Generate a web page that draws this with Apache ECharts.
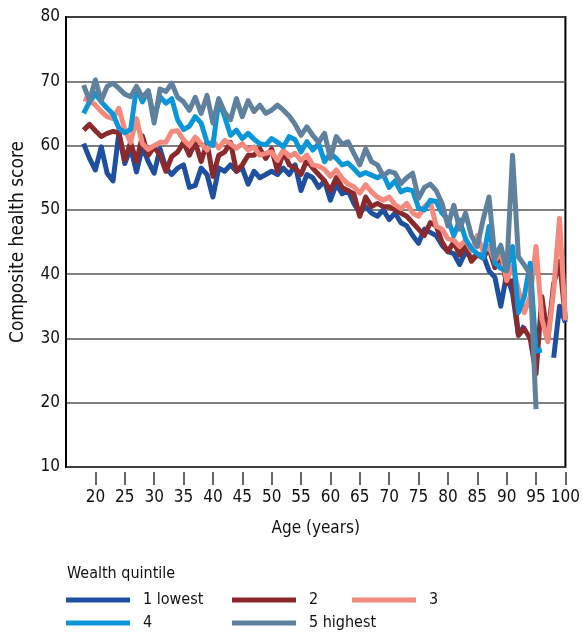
<!DOCTYPE html>
<html>
<head>
<meta charset="utf-8">
<script src="https://cdn.jsdelivr.net/npm/echarts@6/dist/echarts.min.js"></script>
<style>
html,body{margin:0;padding:0;background:#fff;}
#chart{width:583px;height:633px;}
</style>
</head>
<body>
<div id="chart"></div>
<script>
// Ages 18..100
var ages = [];
for (var a = 18; a <= 100; a++) ages.push(a);

var seriesNames = ['1 lowest', '2', '3', '4', '5 highest'];
var xTickLabels = [20, 25, 30, 35, 40, 45, 50, 55, 60, 65, 70, 75, 80, 85, 90, 95, 100];
var yTickLabels = [10, 20, 30, 40, 50, 60, 70, 80];

var q1 = [60.3,58.0,56.2,59.8,55.7,54.5,62.0,57.2,59.6,55.9,59.8,57.5,55.7,59.5,56.5,55.5,56.5,57.0,53.5,53.8,56.5,55.5,52.0,56.5,56.0,57.0,56.0,56.5,54.0,56.0,55.0,55.5,56.0,55.5,56.5,55.5,57.0,53.0,55.5,55.0,53.5,54.5,51.5,54.0,52.5,53.0,51.0,49.5,50.5,49.5,49.0,50.0,48.5,49.5,48.0,47.5,46.0,44.8,47.0,46.5,46.0,44.5,43.5,43.2,41.5,43.5,42.5,43.0,43.0,40.5,39.5,35.0,40.0,37.0,30.5,32.0,null,null,null,null,27.0,35.0,32.5];

var q2 = [62.4,63.3,62.3,61.4,61.9,62.2,62.0,57.8,60.5,57.5,61.5,58.5,59.8,58.5,56.0,58.3,59.0,60.5,58.5,60.5,57.5,60.5,55.2,58.5,59.0,60.5,56.0,57.0,58.5,58.5,59.5,58.0,59.5,56.0,59.0,57.0,56.5,55.5,57.8,56.5,55.5,54.5,53.0,55.0,53.5,53.0,52.5,49.0,52.0,50.5,51.0,50.5,50.5,50.0,49.5,49.0,48.0,47.0,46.0,48.0,47.5,45.0,43.5,45.0,43.0,44.5,42.0,43.0,42.5,44.0,41.0,43.0,38.5,39.0,30.5,31.5,30.0,24.5,36.5,30.0,38.5,42.0,33.0];

var q3 = [67.3,67.0,66.3,65.3,64.5,64.2,65.8,62.5,60.5,64.2,60.3,59.4,60.0,60.5,60.5,62.2,62.3,60.9,60.0,61.3,60.3,59.3,60.8,59.6,60.8,60.3,59.6,60.3,59.3,59.8,58.5,58.8,59.0,57.7,59.3,58.3,58.8,57.7,58.5,57.0,56.8,56.3,55.2,56.2,54.9,54.0,53.6,52.6,53.9,52.8,52.0,51.5,52.0,50.8,50.2,51.0,49.5,49.0,50.5,51.3,47.5,47.0,45.5,45.3,44.3,45.3,43.7,46.0,43.5,44.3,42.0,43.5,39.0,41.2,37.5,34.0,36.5,44.3,33.0,29.5,37.5,48.7,32.8];

var q4 = [65.0,66.8,68.1,66.8,65.8,64.9,62.7,62.0,62.5,69.0,66.8,68.5,64.2,67.6,66.6,67.3,64.0,62.5,63.0,64.5,63.5,60.5,60.0,67.0,64.5,61.6,62.4,61.1,61.9,61.0,60.3,60.1,61.1,60.5,59.8,61.4,60.9,59.0,60.6,59.3,60.3,57.5,58.8,58.0,57.0,57.3,56.4,55.4,55.8,55.4,55.0,55.5,53.5,54.5,52.8,53.2,53.0,50.3,50.0,51.5,51.3,49.5,48.5,46.0,48.4,45.5,44.0,43.2,42.5,47.4,41.7,40.9,40.6,44.3,34.0,36.5,41.7,28.0,28.2,null,null,null,null];

var q5 = [69.4,67.0,70.2,67.0,69.2,69.7,68.9,68.0,67.6,69.2,67.5,68.5,63.5,68.8,68.4,69.7,67.5,66.8,65.5,67.5,65.0,67.8,63.5,67.3,65.2,64.0,67.3,64.5,67.0,65.3,66.3,65.0,65.5,66.3,65.5,64.6,63.3,61.6,62.9,61.6,60.5,61.9,58.0,61.4,60.2,60.6,58.8,57.0,59.5,57.5,57.0,55.3,56.0,55.7,54.1,55.0,55.7,51.8,53.5,54.0,53.0,51.0,47.5,50.7,47.0,49.5,46.0,44.3,48.5,52.0,42.5,44.5,40.5,58.5,42.7,41.4,40.0,19.0,null,null,null,null,null];

var colors = ['#1F4F9F', '#8A2A2D', '#F38A7D', '#0A96D8', '#5F819D'];
var values = [q1, q2, q3, q4, q5];

var FONT = "'Liberation Sans Narrow', 'DejaVu Sans Condensed', 'Roboto', sans-serif";

function pairs(v) {
  return ages.map(function (a, i) { return [a, v[i]]; });
}

var series = values.map(function (v, i) {
  return {
    name: seriesNames[i],
    type: 'line',
    data: pairs(v),
    symbol: 'none',
    connectNulls: false,
    lineStyle: { color: colors[i], width: 5, join: 'round' },
    itemStyle: { color: colors[i] },
    z: 2 + i
  };
});

var legendPos = [
  { left: 66, top: 592 },
  { left: 232, top: 592 },
  { left: 352, top: 592 },
  { left: 66, top: 615 },
  { left: 232, top: 615 }
];

var legends = seriesNames.map(function (n, i) {
  return {
    data: [n],
    left: legendPos[i].left,
    top: legendPos[i].top,
    icon: 'rect',
    itemWidth: 64,
    itemHeight: 5,
    selectedMode: false,
    padding: 0,
    textStyle: { fontFamily: FONT, fontSize: 16, color: '#111', padding: [0, 0, 0, 8] }
  };
});

var chart = echarts.init(document.getElementById('chart'), null, { renderer: 'canvas' });
chart.setOption({
  animation: false,
  backgroundColor: '#fff',
  color: colors,
  title: {
    text: 'Wealth quintile',
    left: 62,
    top: 561,
    textStyle: { fontFamily: FONT, fontSize: 16, fontWeight: 'normal', color: '#111' }
  },
  legend: legends,
  grid: {
    left: 66, right: 11, top: 17, bottom: 166,
    show: true, borderColor: '#000', borderWidth: 2, backgroundColor: 'transparent'
  },
  xAxis: {
    type: 'value',
    min: 15, max: 100, interval: 5,
    offset: 5,
    name: 'Age (years)',
    nameLocation: 'middle',
    nameGap: 48,
    nameTextStyle: { fontFamily: FONT, fontSize: 17, color: '#111' },
    axisLine: { show: false },
    axisTick: { show: true, length: 13, lineStyle: { color: '#333', width: 1.5 }, customValues: xTickLabels },
    axisLabel: { fontFamily: FONT, fontSize: 17, color: '#111', margin: 17, customValues: xTickLabels },
    splitLine: { show: false }
  },
  yAxis: {
    type: 'value',
    min: 10, max: 80, interval: 10,
    name: 'Composite health score',
    nameLocation: 'middle',
    nameGap: 38,
    nameTextStyle: { fontFamily: FONT, fontSize: 19, color: '#111' },
    axisLine: { show: true, lineStyle: { color: '#000', width: 2 } },
    axisTick: { show: false },
    axisLabel: { fontFamily: FONT, fontSize: 17, color: '#111', margin: 6 },
    splitLine: { show: true, lineStyle: { color: '#555', width: 1.5 } }
  },
  series: series
});
</script>
</body>
</html>
